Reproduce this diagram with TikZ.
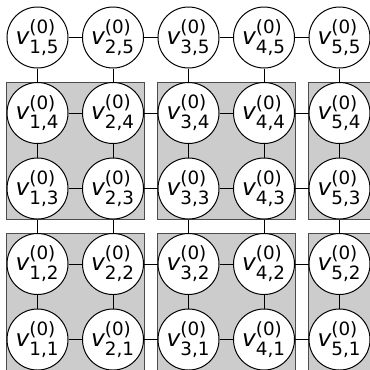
\documentclass[tikz,border=0pt]{standalone}
\usepackage{amsmath}
\usepackage{fontspec}
\setmainfont{DejaVu Sans}
\usetikzlibrary{fit,backgrounds}
\DeclareMathSizes{14}{14}{11}{8}

\begin{document}
\begin{tikzpicture}[
  x=0.6pt, y=-0.6pt, font=\fontsize{14}{16}\selectfont,
  vert/.style={draw, circle, fill=white, minimum size=36.6pt, inner sep=0pt,
               line width=0.6pt},
  link/.style={line width=0.6pt},
  blk/.style={draw=black!70, fill=black!20, inner sep=0pt, line width=0.6pt},
]
\useasboundingbox (0,0) rectangle (370,369);
% ---------------- vertices -----------------
\foreach \i in {1,...,5}
  \foreach \j in {1,...,5}
    \node[vert] (v\i\j) at ({37.5+75.5*(\i-1)}, {37.5+75.5*(5-\j)})
      {$\textit{v}^{\text{(0)}}_{\text{\i,\j}}$};
% ---------------- grid links -----------------
\foreach \i [count=\k from 2] in {1,...,4}
  \foreach \j in {1,...,5}
    \draw[link] (v\i\j) -- (v\k\j);
\foreach \i in {1,...,5}
  \foreach \j [count=\k from 2] in {1,...,4}
    \draw[link] (v\i\j) -- (v\i\k);
% ---------------- blocks -----------------
\begin{scope}[on background layer]
  \node[blk, fit=(v13)(v24)] (b1) {};
  \node[blk, fit=(v33)(v44)] (b2) {};
  \node[blk, fit=(v53)(v54)] (b3) {};
  \node[blk, fit=(v11)(v22)] (b4) {};
  \node[blk, fit=(v31)(v42)] (b5) {};
  \node[blk, fit=(v51)(v52)] (b6) {};
\end{scope}
\end{tikzpicture}
\end{document}
